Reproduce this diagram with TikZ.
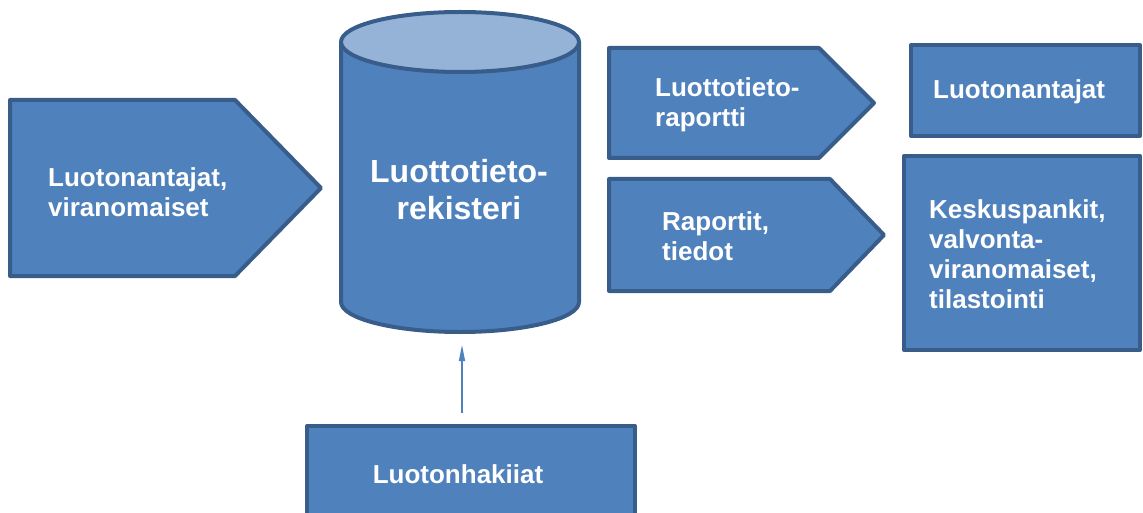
\documentclass[tikz,border=0pt]{standalone}
\usepackage{fontspec}
\setmainfont{Liberation Sans}
\usetikzlibrary{arrows.meta}
\definecolor{fillblue}{HTML}{4F81BD}
\definecolor{edgeblue}{HTML}{385D8A}
\definecolor{topblue}{HTML}{95B3D7}
\tikzset{
  shapebox/.style={draw=edgeblue, fill=fillblue, line width=4pt, line join=round},
  toplid/.style={draw=edgeblue, fill=topblue, line width=4pt},
  lbl/.style={text=white, font=\bfseries\fontsize{26}{30}\selectfont, inner sep=0pt, align=left},
  biglbl/.style={text=white, font=\bfseries\fontsize{32}{37}\selectfont, inner sep=0pt, align=center},
  conn/.style={draw=fillblue, line width=1.3pt, -{Triangle[length=16pt,width=6pt]}}
}
\begin{document}
\begin{tikzpicture}[x=1pt,y=-1pt]
\useasboundingbox (0,0) rectangle (1143,513);
% left pentagon
\draw[shapebox] (10,100) -- (235,100) -- (321,188) -- (235,276) -- (10,276) -- cycle;
% cylinder
\draw[shapebox] (341,42) -- (341,302) arc[start angle=180,end angle=0,x radius=119,y radius=30] -- (579,42);
\draw[toplid] (460,42) ellipse[x radius=119,y radius=30];
% right pentagons
\draw[shapebox] (609,48) -- (819,48) -- (874,103) -- (819,158) -- (609,158) -- cycle;
\draw[shapebox] (609,179) -- (830,179) -- (884,235) -- (830,291) -- (609,291) -- cycle;
% right boxes
\draw[shapebox] (911,45) rectangle (1140,136);
\draw[shapebox] (904,156) rectangle (1140,350);
% bottom box
\draw[shapebox] (307,426) rectangle (635,530);
% texts
\node[lbl, anchor=west] (lv) at (48,192) {Luotonantajat,\\viranomaiset};
\node[biglbl] (reg) at (459,190) {Luottotieto-\\rekisteri};
\node[lbl, anchor=west] (rap) at (655,105) {Luottotieto-\\raportti};
\node[lbl, anchor=west] (rt) at (662,236) {Raportit,\\tiedot};
\node[lbl, anchor=west] (la) at (933,92) {Luotonantajat};
\node[lbl, anchor=west] (kp) at (929,254) {Keskuspankit,\\valvonta-\\viranomaiset,\\tilastointi};
\node[lbl] (lh) at (458,474) {Luotonhakiiat};
% connector
\coordinate (afrom) at (462,413);
\coordinate (ato) at (462,345);
\draw[conn] (afrom) -- (ato);
\end{tikzpicture}
\end{document}
